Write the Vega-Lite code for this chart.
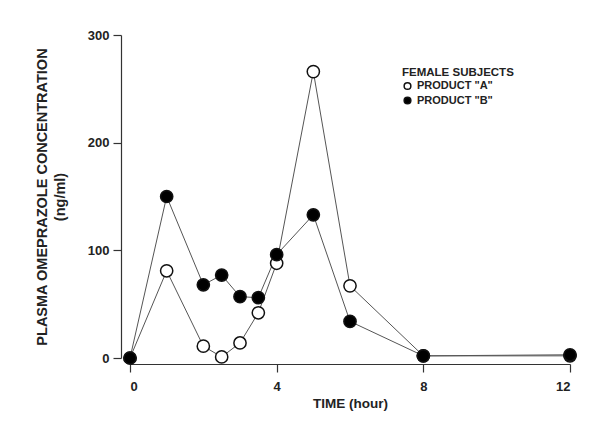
{
  "$schema": "https://vega.github.io/schema/vega-lite/v6.json",
  "width": 440,
  "height": 323,
  "autosize": "none",
  "padding": {"left": 130, "top": 35, "right": 22, "bottom": 67},
  "background": "white",
  "config": {
    "view": {"stroke": null},
    "font": "Liberation Sans",
    "axis": {"grid": false, "domainColor": "#333", "tickColor": "#333", "labelColor": "#222", "titleColor": "#222", "labelFont": "Liberation Sans", "titleFont": "Liberation Sans", "labelFontWeight": "bold", "titleFontWeight": "bold", "labelFontSize": 13, "titleFontSize": 13.5, "domainWidth": 1.2, "tickWidth": 1.2}
  },
  "data": {
    "values": [
      {"time": 0, "conc": 0, "product": "PRODUCT \"A\""},
      {"time": 1, "conc": 81, "product": "PRODUCT \"A\""},
      {"time": 2, "conc": 11, "product": "PRODUCT \"A\""},
      {"time": 2.5, "conc": 1, "product": "PRODUCT \"A\""},
      {"time": 3, "conc": 14, "product": "PRODUCT \"A\""},
      {"time": 3.5, "conc": 42, "product": "PRODUCT \"A\""},
      {"time": 4, "conc": 88, "product": "PRODUCT \"A\""},
      {"time": 5, "conc": 266, "product": "PRODUCT \"A\""},
      {"time": 6, "conc": 67, "product": "PRODUCT \"A\""},
      {"time": 8, "conc": 2, "product": "PRODUCT \"A\""},
      {"time": 12, "conc": 2, "product": "PRODUCT \"A\""},
      {"time": 0, "conc": 0, "product": "PRODUCT \"B\""},
      {"time": 1, "conc": 150, "product": "PRODUCT \"B\""},
      {"time": 2, "conc": 68, "product": "PRODUCT \"B\""},
      {"time": 2.5, "conc": 77, "product": "PRODUCT \"B\""},
      {"time": 3, "conc": 57, "product": "PRODUCT \"B\""},
      {"time": 3.5, "conc": 56, "product": "PRODUCT \"B\""},
      {"time": 4, "conc": 96, "product": "PRODUCT \"B\""},
      {"time": 5, "conc": 133, "product": "PRODUCT \"B\""},
      {"time": 6, "conc": 34, "product": "PRODUCT \"B\""},
      {"time": 8, "conc": 2, "product": "PRODUCT \"B\""},
      {"time": 12, "conc": 3, "product": "PRODUCT \"B\""}
    ]
  },
  "encoding": {
    "x": {"field": "time", "type": "quantitative", "scale": {"domain": [0, 12], "nice": false},
      "axis": {"values": [0, 4, 8, 12], "title": "TIME (hour)", "offset": 6, "tickSize": 8, "labelPadding": 8, "titlePadding": 3}},
    "y": {"field": "conc", "type": "quantitative", "scale": {"domain": [0, 300], "nice": false},
      "axis": {"values": [0, 100, 200, 300], "title": ["PLASMA OMEPRAZOLE CONCENTRATION", "(ng/ml)"], "titleFontSize": 14.5, "offset": 9, "tickSize": 8, "labelPadding": 4, "titlePadding": 20, "titleLineHeight": 18}}
  },
  "layer": [
    {
      "mark": {"type": "line", "color": "#555", "strokeWidth": 1},
      "encoding": {"detail": {"field": "product"}}
    },
    {
      "mark": {"type": "point", "filled": false, "size": 150, "stroke": "#111", "strokeWidth": 1.5, "opacity": 1},
      "encoding": {
        "fill": {"field": "product", "type": "nominal",
          "scale": {"domain": ["PRODUCT \"A\"", "PRODUCT \"B\""], "range": ["white", "black"]},
          "legend": {"title": "FEMALE SUBJECTS", "orient": "none", "legendX": 272, "legendY": 32, "titleFontSize": 11.5, "titleFontWeight": "bold", "titleColor": "#222", "titlePadding": 2, "labelFontSize": 11, "labelFontWeight": "bold", "labelColor": "#222", "symbolSize": 45, "symbolStrokeColor": "#111", "symbolStrokeWidth": 1.5, "rowPadding": 1.5, "labelOffset": 4}
        },
        "order": {"field": "product", "sort": "ascending"}
      }
    }
  ]
}
